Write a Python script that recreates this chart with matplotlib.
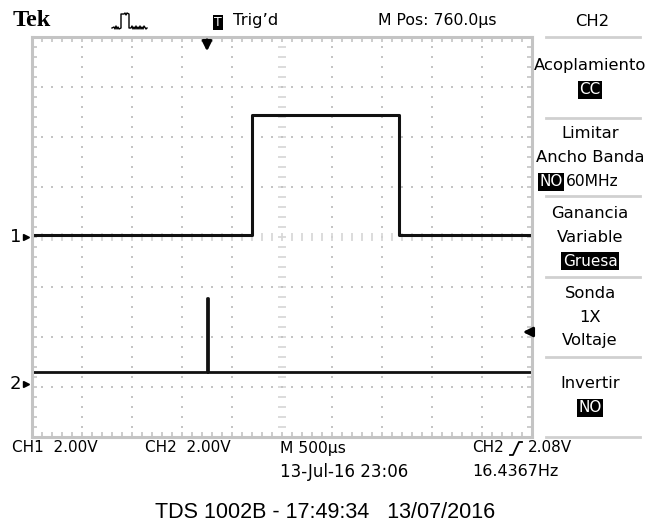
import matplotlib

matplotlib.use("Agg")
import matplotlib.pyplot as plt
import numpy as np

W, H = 650, 524
GRID = "#c4c4c4"
CROSS = "#d6d6d6"

# Scope settings
VOLTS_PER_DIV = 2.0
MS_PER_DIV = 0.5
CH1_GROUND_DIV = 0.0
CH2_GROUND_DIV = -2.94
TRIG_LEVEL_V = 2.08
TRIG_TIME_MS = 1.75

# CH1: square pulse (steps-post)
ch1_time_ms = [0.0, 2.20, 3.67, 5.0]
ch1_volts = [0.08, 4.88, 0.08, 0.08]

# CH2: narrow trigger spike
ch2_time_ms = [0.0, 1.75, 1.755, 5.0]
ch2_volts = [0.48, 3.44, 0.48, 0.48]


def fx(x):
    return x / W


def fy(y):
    return 1 - y / H


def ftext(x, y, s, size=11.5, ha="left", **kw):
    kw.setdefault("family", "DejaVu Sans")
    fig.text(fx(x), fy(y), s, fontsize=size, ha=ha, va="center", **kw)


def inverse(x, y, s, size=11.5, ha="center"):
    ftext(x, y, s, size=size, ha=ha, color="white",
          bbox=dict(boxstyle="square,pad=0.08", fc="black", ec="none"))


fig = plt.figure(figsize=(W / 100, H / 100), dpi=100)
ax = fig.add_axes([fx(32), fy(437), 500 / W, 400 / H])
ax.set_xlim(0, 10)
ax.set_ylim(-4, 4)
ax.set_xticks([])
ax.set_yticks([])
for sp in ax.spines.values():
    sp.set_color(GRID)
    sp.set_linewidth(2.2)

# graticule
fine_x = np.arange(0, 10.01, 0.2)
fine_y = np.arange(-4, 4.01, 0.2)
for i in range(1, 10):
    if i == 5:
        ax.plot([i] * len(fine_y), fine_y, ls="none", marker="_", ms=6, mew=1.2, color=CROSS)
    else:
        ax.plot([i] * len(fine_y), fine_y, ls="none", marker="s", ms=1.6, mew=0, color=GRID)
for j in range(-3, 4):
    if j == 0:
        ax.plot(fine_x, [j] * len(fine_x), ls="none", marker="|", ms=6, mew=1.2, color=CROSS)
    else:
        ax.plot(fine_x, [j] * len(fine_x), ls="none", marker="s", ms=1.6, mew=0, color=GRID)
for yb in (-4, 4):
    ax.plot(fine_x, [yb] * len(fine_x), ls="none", marker="|", ms=7, mew=1.2, color=GRID)
for xb in (0, 10):
    ax.plot([xb] * len(fine_y), fine_y, ls="none", marker="_", ms=7, mew=1.2, color=GRID)

# traces
ch1_x = np.array(ch1_time_ms) / MS_PER_DIV
ch1_y = CH1_GROUND_DIV + np.array(ch1_volts) / VOLTS_PER_DIV
ax.plot(ch1_x, ch1_y, drawstyle="steps-post", color="#111111", lw=2.2)
ch2_x = np.array(ch2_time_ms) / MS_PER_DIV
ch2_y = CH2_GROUND_DIV + np.array(ch2_volts) / VOLTS_PER_DIV
ax.plot(ch2_x, ch2_y, drawstyle="steps-post", color="#111111", lw=2.0)

# ground markers
for g, lab in ((CH1_GROUND_DIV, "1"), (CH2_GROUND_DIV, "2")):
    ax.plot([-0.12], [g], marker=">", ms=5, color="black", clip_on=False)
    ax.text(-0.22, g, lab, ha="right", va="center", fontsize=13,
            family="DejaVu Sans", clip_on=False)

# trigger level arrow (right) and trigger position arrow (top)
trig_y = CH2_GROUND_DIV + TRIG_LEVEL_V / VOLTS_PER_DIV
ax.annotate("", xy=(9.76, trig_y), xytext=(10.0, trig_y),
            arrowprops=dict(arrowstyle="-|>", color="black", lw=2, mutation_scale=14))
trig_x = TRIG_TIME_MS / MS_PER_DIV
ax.annotate("", xy=(trig_x, 3.66), xytext=(trig_x, 4.0),
            arrowprops=dict(arrowstyle="-|>", color="black", lw=2, mutation_scale=14))

# header
ftext(13, 21, "Tek", size=17.5, family="Liberation Serif", weight="bold")
icon_x = [112, 114, 115, 116, 117, 118, 119, 121, 121, 124, 125, 126, 127, 129, 129,
          131, 132, 133, 134, 135, 136, 137, 138, 139, 140, 141, 142, 143, 144, 146, 147]
icon_y = [28, 27, 29, 26, 29, 27, 29, 28, 14, 14, 13, 15, 13, 14, 28,
          28, 26, 29, 27, 29, 26, 29, 27, 29, 26, 29, 27, 29, 26, 29, 28]
fig.add_artist(plt.Line2D([fx(v) for v in icon_x], [fy(v) for v in icon_y],
                          color="black", lw=1.0))
inverse(218, 22, "T", size=9, ha="center")
ftext(233, 21, "Trig\u2019d", size=11.8)
ftext(378, 21, "M Pos: 760.0\u00b5s", size=11.3)
ftext(592, 22, "CH2", size=11.8, ha="center")

# side menu
for yl in (37, 118, 196, 277, 357, 437):
    fig.add_artist(plt.Line2D([fx(546), fx(640)], [fy(yl), fy(yl)], color="#d0d0d0", lw=2))
ftext(590, 66, "Acoplamiento", size=11.8, ha="center")
inverse(590, 90, "CC", size=11)
ftext(590, 133, "Limitar", size=11.8, ha="center")
ftext(590, 158, "Ancho Banda", size=11.8, ha="center")
inverse(551, 182, "NO", size=11)
ftext(566, 182, "60MHz", size=11.2)
ftext(590, 213, "Ganancia", size=11.8, ha="center")
ftext(590, 237, "Variable", size=11.8, ha="center")
inverse(590, 261, "Gruesa", size=11)
ftext(590, 294, "Sonda", size=11.8, ha="center")
ftext(590, 317, "1X", size=11.8, ha="center")
ftext(590, 341, "Voltaje", size=11.8, ha="center")
ftext(590, 384, "Invertir", size=11.8, ha="center")
inverse(590, 408, "NO", size=11)

# bottom status lines
ftext(12, 448, "CH1  2.00V", size=11)
ftext(145, 448, "CH2  2.00V", size=11)
ftext(280, 448, "M 500\u00b5s", size=11.2)
ftext(280, 472, "13-Jul-16 23:06", size=12)
ftext(472, 448, "CH2", size=11)
fig.add_artist(plt.Line2D([fx(510), fx(513), fx(519), fx(522)],
                          [fy(455), fy(455), fy(442), fy(442)], color="black", lw=1.3))
ftext(528, 448, "2.08V", size=11)
ftext(472, 472, "16.4367Hz", size=11.5)

ftext(325, 512, "TDS 1002B - 17:49:34   13/07/2016", size=15.5, ha="center",
      family="Liberation Sans")

fig.savefig("out.png", dpi=100)
